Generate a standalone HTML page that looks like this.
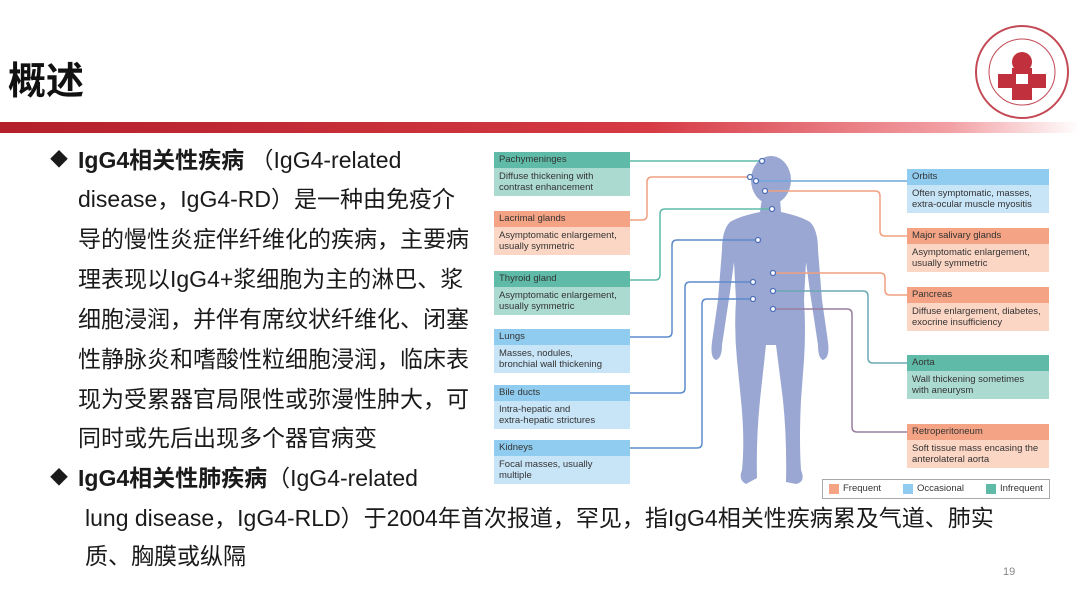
<!DOCTYPE html>
<html><head><meta charset="utf-8"><style>
body{margin:0;width:1080px;height:607px;overflow:hidden;background:#fff;position:relative;font-family:"Liberation Sans","Noto Sans CJK SC",sans-serif;color:#111}
.t{position:absolute;white-space:nowrap;font-size:23px;line-height:30px;color:#1a1a1a}
.b{font-weight:bold}
.bx{position:absolute;font-family:"Liberation Sans",sans-serif;font-size:9.5px;color:#333;white-space:nowrap}
.bx .h{height:16px;line-height:16px;padding-left:5px}
.bx .c{padding:3px 5px;line-height:11px;height:22px}
.F .h{background:#f4a384}.F .c{background:#fcd6c4}
.O .h{background:#90ccef}.O .c{background:#c8e4f7}
.I .h{background:#5fbba8}.I .c{background:#abdad0}
</style></head><body>
<div style="position:absolute;left:8px;top:50px;font-size:38px;font-weight:bold;font-family:'Liberation Sans','Noto Sans CJK SC',sans-serif">概述</div>
<div style="position:absolute;left:0;top:122px;width:1080px;height:11px;background:linear-gradient(90deg,#b3202a 0%,#d63a44 60%,#f2a0a4 88%,#fff 100%)"></div>
<svg style="position:absolute;left:972px;top:22px" width="100" height="100"><circle cx="50" cy="50" r="46" fill="none" stroke="#c34a55" stroke-width="2"/><circle cx="50" cy="50" r="33" fill="none" stroke="#c34a55" stroke-width="1"/><circle cx="50" cy="40" r="10" fill="#c0303d"/><path d="M26 52h14v-6h20v6h14v14h-14v12h-20v-12h-14z" fill="#c0303d"/><path d="M44 52h12v10h-12z" fill="#fff"/></svg>

<div class="t b" style="left:50px;top:145px;font-size:18px">◆</div>
<div class="t" style="left:78px;top:145px"><b>IgG4相关性疾病</b> （IgG4-related</div>
<div class="t" style="left:78px;top:184px">disease，IgG4-RD）是一种由免疫介</div>
<div class="t" style="left:78px;top:224px">导的慢性炎症伴纤维化的疾病，主要病</div>
<div class="t" style="left:78px;top:264px">理表现以IgG4+浆细胞为主的淋巴、浆</div>
<div class="t" style="left:78px;top:304px">细胞浸润，并伴有席纹状纤维化、闭塞</div>
<div class="t" style="left:78px;top:344px">性静脉炎和嗜酸性粒细胞浸润，临床表</div>
<div class="t" style="left:78px;top:384px">现为受累器官局限性或弥漫性肿大，可</div>
<div class="t" style="left:78px;top:423px">同时或先后出现多个器官病变</div>
<div class="t b" style="left:50px;top:463px;font-size:18px">◆</div>
<div class="t" style="left:78px;top:463px"><b>IgG4相关性肺疾病</b>（IgG4-related</div>
<div class="t" style="left:85px;top:503px">lung disease，IgG4-RLD）于2004年首次报道，罕见，指IgG4相关性疾病累及气道、肺实</div>
<div class="t" style="left:85px;top:541px">质、胸膜或纵隔</div>
<div style="position:absolute;left:1003px;top:566px;font-size:11px;color:#888">19</div>

<svg style="position:absolute;left:0;top:0" width="1080" height="607">
<g fill="#9ba7d3">
<ellipse cx="771" cy="180" rx="20" ry="24"/>
<path d="M762 198 L780 198 L781 212 Q800 216 810 222 Q818 230 818 250 L822 300 L828 342 Q830 358 823 360 Q818 358 818 345 L810 292 L806 262 L804 300 Q806 330 804 360 L801 400 Q799 440 801 470 Q806 482 796 484 L786 482 Q787 440 783 400 L776 345 L766 345 L760 400 Q756 440 757 478 L746 484 Q738 480 742 470 Q745 440 741 400 L737 360 Q734 330 736 300 L734 262 L730 292 L722 345 Q722 358 716 360 Q710 358 712 342 L718 300 L722 250 Q722 230 730 222 Q740 216 760 212 Z"/>
</g>
<g fill="none" stroke-width="1.5">
<path d="M630 161H762" stroke="#5fbba8"/>
<path d="M630 220h12q5 0 5-5v-33q0-5 5-5h98" stroke="#f0a080"/>
<path d="M756 181H907" stroke="#6fa8dc"/>
<path d="M765 191h110q5 0 5 5v35q0 5 5 5h22" stroke="#f0a080"/>
<path d="M772 209H665q-5 0-5 5v61q0 5-5 5h-25" stroke="#5fbba8"/>
<path d="M758 240H677q-5 0-5 5v87q0 5-5 5h-37" stroke="#5d8ccc"/>
<path d="M753 282H690q-5 0-5 5v101q0 5-5 5h-50" stroke="#5d8ccc"/>
<path d="M753 299H707q-5 0-5 5v139q0 5-5 5h-67" stroke="#5d8ccc"/>
<path d="M773 273h107q5 0 5 5v12q0 5 5 5h17" stroke="#f0a080"/>
<path d="M773 291h90q5 0 5 5v62q0 5 5 5h34" stroke="#6aa9b5"/>
<path d="M773 309h74q5 0 5 5v113q0 5 5 5h50" stroke="#9a7fa0"/>
</g>
<g fill="#fff" stroke="#4f70b8" stroke-width="1.3">
<circle cx="762" cy="161" r="2.5"/><circle cx="750" cy="177" r="2.5"/><circle cx="756" cy="181" r="2.5"/><circle cx="765" cy="191" r="2.5"/><circle cx="772" cy="209" r="2.5"/><circle cx="758" cy="240" r="2.5"/><circle cx="773" cy="273" r="2.5"/><circle cx="773" cy="291" r="2.5"/><circle cx="773" cy="309" r="2.5"/><circle cx="753" cy="282" r="2.5"/><circle cx="753" cy="299" r="2.5"/>
</g>
</svg>

<div class="bx I" style="left:494px;top:152px;width:136px"><div class="h">Pachymeninges</div><div class="c">Diffuse thickening with<br>contrast enhancement</div></div>
<div class="bx F" style="left:494px;top:211px;width:136px"><div class="h">Lacrimal glands</div><div class="c">Asymptomatic enlargement,<br>usually symmetric</div></div>
<div class="bx I" style="left:494px;top:271px;width:136px"><div class="h">Thyroid gland</div><div class="c">Asymptomatic enlargement,<br>usually symmetric</div></div>
<div class="bx O" style="left:494px;top:329px;width:136px"><div class="h">Lungs</div><div class="c">Masses, nodules,<br>bronchial wall thickening</div></div>
<div class="bx O" style="left:494px;top:385px;width:136px"><div class="h">Bile ducts</div><div class="c">Intra-hepatic and<br>extra-hepatic strictures</div></div>
<div class="bx O" style="left:494px;top:440px;width:136px"><div class="h">Kidneys</div><div class="c">Focal masses, usually<br>multiple</div></div>

<div class="bx O" style="left:907px;top:169px;width:142px"><div class="h">Orbits</div><div class="c">Often symptomatic, masses,<br>extra-ocular muscle myositis</div></div>
<div class="bx F" style="left:907px;top:228px;width:142px"><div class="h">Major salivary glands</div><div class="c">Asymptomatic enlargement,<br>usually symmetric</div></div>
<div class="bx F" style="left:907px;top:287px;width:142px"><div class="h">Pancreas</div><div class="c">Diffuse enlargement, diabetes,<br>exocrine insufficiency</div></div>
<div class="bx I" style="left:907px;top:355px;width:142px"><div class="h">Aorta</div><div class="c">Wall thickening sometimes<br>with aneurysm</div></div>
<div class="bx F" style="left:907px;top:424px;width:142px"><div class="h">Retroperitoneum</div><div class="c">Soft tissue mass encasing the<br>anterolateral aorta</div></div>

<div class="bx" style="left:822px;top:479px;width:226px;height:18px;border:1px solid #aaa;font-size:9.5px;line-height:18px">
<span style="position:absolute;left:6px;top:4px;width:10px;height:10px;background:#f4a384"></span><span style="position:absolute;left:20px">Frequent</span>
<span style="position:absolute;left:80px;top:4px;width:10px;height:10px;background:#90ccef"></span><span style="position:absolute;left:94px">Occasional</span>
<span style="position:absolute;left:163px;top:4px;width:10px;height:10px;background:#5fbba8"></span><span style="position:absolute;left:177px">Infrequent</span>
</div>
</body></html>
